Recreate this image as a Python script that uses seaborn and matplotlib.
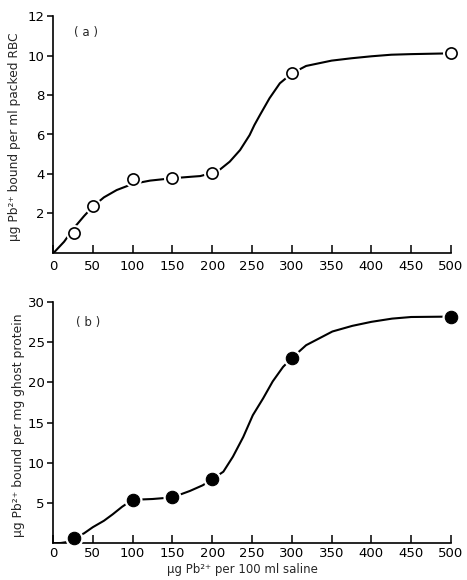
import numpy as np
import pandas as pd
import matplotlib
matplotlib.use("Agg")
import matplotlib.pyplot as plt
import seaborn as sns

# ---------------- data ----------------
# (a) lead bound per ml packed RBC
conc_a = [27, 50, 100, 150, 200, 300, 500]
bound_a = [1.0, 2.35, 3.75, 3.8, 4.05, 9.1, 10.12]
curve_x_a = [1, 14, 26, 39, 50, 64, 80, 100, 122, 150, 175, 185, 200, 210,
             222, 235, 247, 253, 260, 272, 285, 300, 318, 350, 375, 400,
             425, 450, 500]
curve_y_a = [0.0, 0.56, 1.24, 1.86, 2.34, 2.81, 3.18, 3.49, 3.66, 3.78,
             3.86, 3.89, 4.05, 4.23, 4.62, 5.21, 5.97, 6.48, 6.99, 7.84,
             8.6, 9.1, 9.48, 9.75, 9.87, 9.97, 10.05, 10.08, 10.12]

# (b) lead bound per mg ghost protein
conc_b = [26, 100, 150, 200, 300, 500]
bound_b = [0.65, 5.4, 5.7, 7.95, 23.0, 28.1]
curve_x_b = [0, 10, 18, 26, 39, 50, 64, 75, 87, 100, 125, 150, 172, 188,
             200, 214, 226, 239, 251, 264, 276, 289, 300, 318, 351, 376,
             400, 426, 450, 500]
curve_y_b = [0.0, 0.04, 0.16, 0.62, 1.24, 2.0, 2.8, 3.6, 4.55, 5.4, 5.5,
             5.7, 6.5, 7.2, 7.95, 8.89, 10.75, 13.2, 15.9, 18.0, 20.1, 21.9,
             23.0, 24.6, 26.3, 27.0, 27.5, 27.9, 28.1, 28.15]

x_ticks = list(range(0, 501, 50))
yticks_a = [2, 4, 6, 8, 10, 12]
yticks_b = [5, 10, 15, 20, 25, 30]

sns.set_style("ticks")
plt.rcParams["font.family"] = ["DejaVu Sans"]

fig = plt.figure(figsize=(4.67, 5.8), dpi=100)
W, H = 467.0, 580.0
ax1 = fig.add_axes([53 / W, 1 - 252.7 / H, 398 / W, (252.7 - 16.3) / H])
ax2 = fig.add_axes([53 / W, 1 - 543.3 / H, 398 / W, (543.3 - 301.7) / H])


def style_axis(ax, ymax, yticks, xpad=5):
    ax.set_xlim(0, 500)
    ax.set_ylim(0, ymax)
    ax.set_xticks(x_ticks)
    ax.set_yticks(yticks)
    sns.despine(ax=ax)
    for s in ("left", "bottom"):
        ax.spines[s].set_linewidth(1.2)
        ax.spines[s].set_color("black")
    ax.tick_params(axis="x", direction="in", length=6, width=1.1,
                   labelsize=9.5, pad=xpad, colors="black")
    ax.tick_params(axis="y", direction="out", length=4, width=1.1,
                   labelsize=9.5, pad=2, colors="black")


# ---------------- panel (a) ----------------
df_ca = pd.DataFrame({"x": curve_x_a, "y": curve_y_a})
df_a = pd.DataFrame({"x": conc_a, "y": bound_a})
sns.lineplot(data=df_ca, x="x", y="y", ax=ax1, color="black", lw=1.5,
             sort=False, zorder=2)
sns.scatterplot(data=df_a, x="x", y="y", ax=ax1, s=150, color="white",
                edgecolor="white", linewidth=0, zorder=3, clip_on=False)
sns.scatterplot(data=df_a, x="x", y="y", ax=ax1, s=65, color="white",
                edgecolor="black", linewidth=1.2, zorder=4, clip_on=False)
style_axis(ax1, 12, yticks_a)
ax1.set_xlabel("")
ax1.set_ylabel("μg Pb²⁺ bound per ml packed RBC", fontsize=8.8)
ax1.yaxis.set_label_coords(-0.08, 0.49)
ax1.text(0.053, 0.93, "( a )", transform=ax1.transAxes, fontsize=8.5,
         ha="left", va="center")

# ---------------- panel (b) ----------------
df_cb = pd.DataFrame({"x": curve_x_b, "y": curve_y_b})
df_b = pd.DataFrame({"x": conc_b, "y": bound_b})
sns.lineplot(data=df_cb, x="x", y="y", ax=ax2, color="black", lw=1.5,
             sort=False, zorder=2)
sns.scatterplot(data=df_b, x="x", y="y", ax=ax2, s=170, color="white",
                edgecolor="white", linewidth=0, zorder=3, clip_on=False)
sns.scatterplot(data=df_b, x="x", y="y", ax=ax2, s=80, color="black",
                edgecolor="black", linewidth=0.8, zorder=4, clip_on=False)
style_axis(ax2, 30, yticks_b, xpad=3)
ax2.set_xlabel("μg Pb²⁺ per 100 ml saline", fontsize=8.5)
ax2.set_ylabel("μg Pb²⁺ bound per mg ghost protein", fontsize=8.9)
ax2.yaxis.set_label_coords(-0.07, 0.49)
ax2.xaxis.set_label_coords(0.475, -0.08)
ax2.text(0.058, 0.912, "( b )", transform=ax2.transAxes, fontsize=8.5,
         ha="left", va="center")

fig.savefig("out.png", dpi=100)
